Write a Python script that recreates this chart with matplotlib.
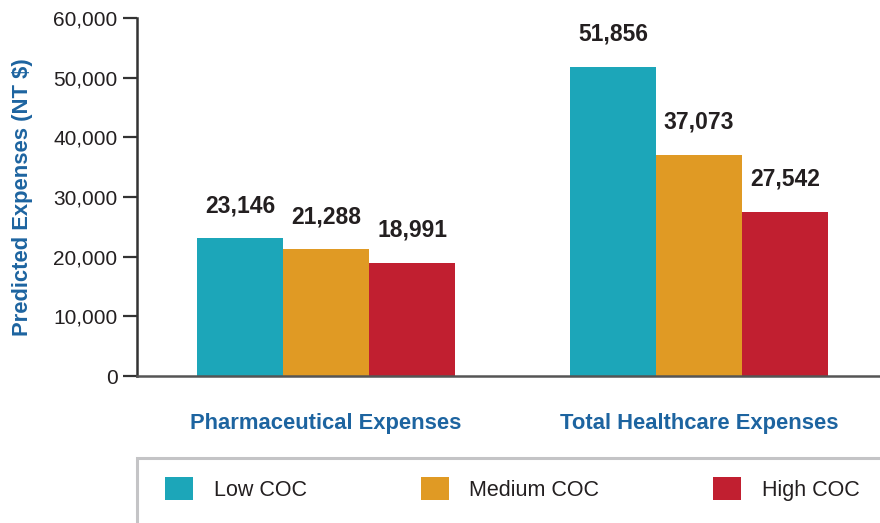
import matplotlib
matplotlib.use("Agg")
import matplotlib.pyplot as plt
from matplotlib.patches import Rectangle
import numpy as np

plt.rcParams['font.family'] = ['Liberation Sans', 'DejaVu Sans']

categories = ["Pharmaceutical Expenses", "Total Healthcare Expenses"]
series_names = ["Low COC", "Medium COC", "High COC"]
low_coc = [23146, 51856]
medium_coc = [21288, 37073]
high_coc = [18991, 27542]
yticks = [0, 10000, 20000, 30000, 40000, 50000, 60000]
ytick_labels = ["0", "10,000", "20,000", "30,000", "40,000", "50,000", "60,000"]

colors = ["#1ca6b9", "#e09a24", "#c11f30"]
text_dark = "#231f20"
blue_label = "#1d64a0"

W, H = 880, 523
fig = plt.figure(figsize=(W / 100, H / 100), dpi=100)
ax = fig.add_axes([137 / W, 1 - 376 / H, (W - 137) / W, (376 - 18) / H])

x = np.arange(len(categories))
width = 0.2306
handles = []
for i, (vals, name) in enumerate(zip([low_coc, medium_coc, high_coc], series_names)):
    bars = ax.bar(x + (i - 1) * width, vals, width=width, color=colors[i], label=name, zorder=2)
    handles.append(bars)
    for xi, v in zip(x + (i - 1) * width, vals):
        ax.annotate(f"{v:,}", (xi, v), xytext=(0, 15), textcoords="offset points",
                    ha="center", va="bottom", fontsize=16.5, fontweight="bold", color=text_dark)

ax.set_xlim(-0.507, 1.485)
ax.set_ylim(0, 60000)
ax.set_yticks(yticks)
ax.set_yticklabels(ytick_labels, fontsize=15, color=text_dark)
ax.set_xticks(x)
ax.set_xticklabels(categories, fontsize=15.8, fontweight="bold", color=blue_label)
ax.tick_params(axis="x", length=0, pad=27)
ax.tick_params(axis="y", length=10, width=1.6, color="#333333", pad=4)
for s in ["top", "right"]:
    ax.spines[s].set_visible(False)
ax.spines["left"].set_linewidth(1.8)
ax.spines["left"].set_color("#333333")
ax.spines["bottom"].set_linewidth(1.8)
ax.spines["bottom"].set_color("#555555")
ax.set_ylabel("Predicted Expenses (NT $)", fontsize=15.8, fontweight="bold", color=blue_label)
ax.yaxis.set_label_coords((33 - 137) / 743, 0.5)

# legend box (extends past figure edges)
fig.patches.append(Rectangle((137 / W, -0.1), 1.0, (1 - 458 / H) + 0.1, transform=fig.transFigure,
                             facecolor="none", edgecolor="#c4c4c6", linewidth=2.2))
fig.legend(handles=handles, labels=series_names, loc="center left",
           bbox_to_anchor=(146 / W, 1 - 489 / H), ncol=3, frameon=False,
           fontsize=15.5, handlelength=1.3, handleheight=1.3, handletextpad=0.95,
           columnspacing=5.3, labelcolor=text_dark)

fig.savefig("out.png", dpi=100)
